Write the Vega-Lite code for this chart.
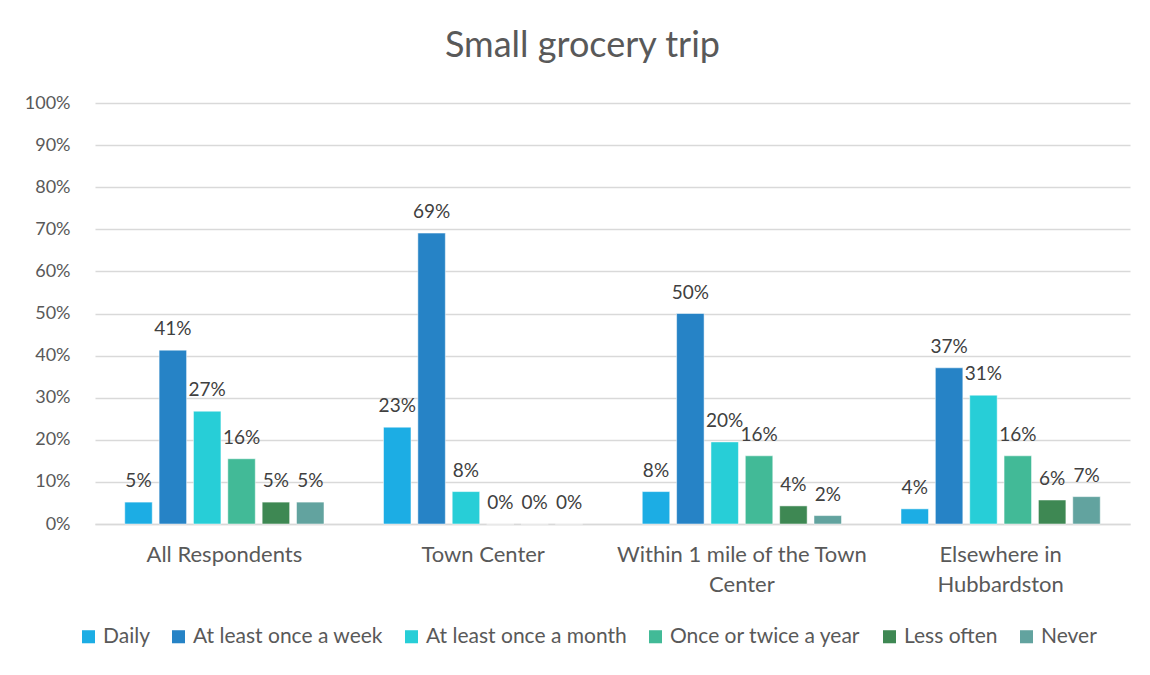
{
  "$schema": "https://vega.github.io/schema/vega-lite/v6.json",
  "autosize": {"type": "none"},
  "padding": {"left": 95, "top": 103, "right": 20, "bottom": 151},
  "width": 1035,
  "height": 421,
  "background": "white",
  "config": {
    "font": "Lato",
    "view": {"stroke": null},
    "axis": {"labelColor": "#595959", "labelFont": "Lato"},
    "legend": {"labelFont": "Lato"}
  },
  "title": {
    "text": "Small grocery trip",
    "fontSize": 36,
    "font": "Lato",
    "fontWeight": "normal",
    "color": "#595959",
    "anchor": "middle",
    "dx": -30,
    "offset": 29
  },
  "data": {
    "values": [
      {"group": "All Respondents", "freq": "Daily", "value": 0.052},
      {"group": "All Respondents", "freq": "At least once a week", "value": 0.413},
      {"group": "All Respondents", "freq": "At least once a month", "value": 0.268},
      {"group": "All Respondents", "freq": "Once or twice a year", "value": 0.155},
      {"group": "All Respondents", "freq": "Less often", "value": 0.052},
      {"group": "All Respondents", "freq": "Never", "value": 0.052},
      {"group": "Town Center", "freq": "Daily", "value": 0.23},
      {"group": "Town Center", "freq": "At least once a week", "value": 0.691},
      {"group": "Town Center", "freq": "At least once a month", "value": 0.077},
      {"group": "Town Center", "freq": "Once or twice a year", "value": 0},
      {"group": "Town Center", "freq": "Less often", "value": 0},
      {"group": "Town Center", "freq": "Never", "value": 0},
      {"group": "Within 1 mile of the Town Center", "freq": "Daily", "value": 0.077},
      {"group": "Within 1 mile of the Town Center", "freq": "At least once a week", "value": 0.5},
      {"group": "Within 1 mile of the Town Center", "freq": "At least once a month", "value": 0.195},
      {"group": "Within 1 mile of the Town Center", "freq": "Once or twice a year", "value": 0.162},
      {"group": "Within 1 mile of the Town Center", "freq": "Less often", "value": 0.043},
      {"group": "Within 1 mile of the Town Center", "freq": "Never", "value": 0.02},
      {"group": "Elsewhere in Hubbardston", "freq": "Daily", "value": 0.036},
      {"group": "Elsewhere in Hubbardston", "freq": "At least once a week", "value": 0.371},
      {"group": "Elsewhere in Hubbardston", "freq": "At least once a month", "value": 0.306},
      {"group": "Elsewhere in Hubbardston", "freq": "Once or twice a year", "value": 0.162},
      {"group": "Elsewhere in Hubbardston", "freq": "Less often", "value": 0.057},
      {"group": "Elsewhere in Hubbardston", "freq": "Never", "value": 0.065}
    ]
  },
  "encoding": {
    "x": {
      "field": "group",
      "type": "nominal",
      "sort": null,
      "title": null,
      "scale": {"paddingInner": 0.23, "paddingOuter": 0.115},
      "axis": {
        "labelAngle": 0,
        "labelFontSize": 22,
        "labelPadding": 20,
        "labelLineHeight": 30,
        "labelBaseline": "top",
        "labelLimit": 400,
        "ticks": false,
        "domain": true,
        "domainColor": "#d9d9d9",
        "domainWidth": 1.5,
        "labelExpr": "datum.label == 'Within 1 mile of the Town Center' ? ['Within 1 mile of the Town', 'Center'] : datum.label == 'Elsewhere in Hubbardston' ? ['Elsewhere in', 'Hubbardston'] : datum.label"
      }
    },
    "xOffset": {
      "field": "freq",
      "type": "nominal",
      "sort": ["Daily", "At least once a week", "At least once a month", "Once or twice a year", "Less often", "Never"],
      "scale": {"paddingInner": 0.2, "paddingOuter": 0}
    },
    "y": {
      "field": "value",
      "type": "quantitative",
      "title": null,
      "scale": {"domain": [0, 1]},
      "axis": {
        "values": [0, 0.1, 0.2, 0.3, 0.4, 0.5, 0.6, 0.7, 0.8, 0.9, 1],
        "format": ".0%",
        "labelFontSize": 18,
        "labelPadding": 25,
        "ticks": false,
        "domain": false,
        "gridColor": "#d9d9d9",
        "gridWidth": 1.5
      }
    }
  },
  "layer": [
    {
      "mark": {"type": "bar", "stroke": "white", "strokeWidth": 0.5},
      "encoding": {
        "color": {
          "field": "freq",
          "type": "nominal",
          "sort": ["Daily", "At least once a week", "At least once a month", "Once or twice a year", "Less often", "Never"],
          "scale": {
            "domain": ["Daily", "At least once a week", "At least once a month", "Once or twice a year", "Less often", "Never"],
            "range": ["#1cade4", "#2683c6", "#27ced7", "#42ba97", "#3e8853", "#62a39f"]
          },
          "legend": {
            "title": null,
            "orient": "none",
            "legendX": -17,
            "legendY": 523,
            "direction": "horizontal",
            "columns": 6,
            "symbolType": "square",
            "symbolSize": 170,
            "symbolStrokeWidth": 0,
            "labelFontSize": 21,
            "labelColor": "#595959",
            "columnPadding": 18,
            "labelOffset": 4,
            "labelLimit": 300
          }
        }
      }
    },
    {
      "mark": {"type": "text", "fontSize": 19, "color": "#404040", "baseline": "alphabetic", "dy": -15},
      "encoding": {
        "text": {"field": "value", "type": "quantitative", "format": ".0%"}
      }
    }
  ]
}
